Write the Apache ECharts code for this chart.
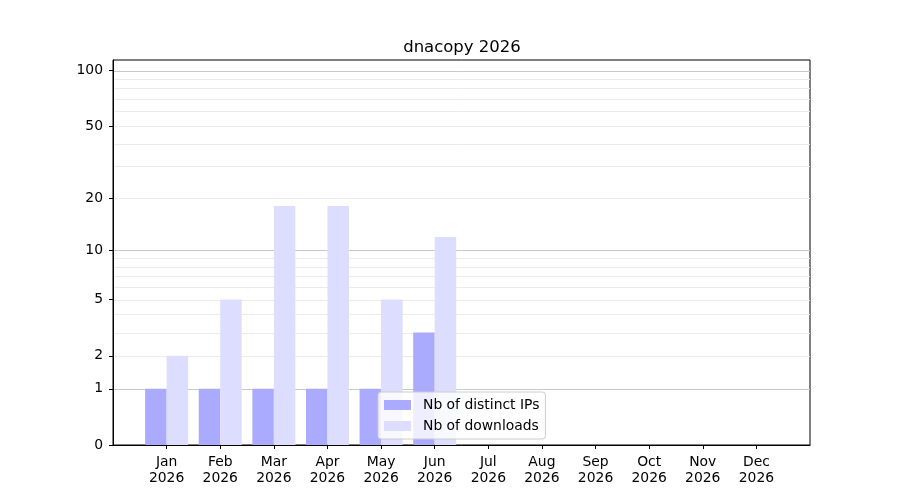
<!DOCTYPE html>
<html>
<head>
<meta charset="utf-8">
<script src="https://cdn.jsdelivr.net/npm/echarts@6/dist/echarts.min.js"></script>
<style>html,body{margin:0;padding:0;background:#fff}#c{width:900px;height:500px}</style>
</head>
<body>
<div id="c"></div>
<script>
const months = ['Jan','Feb','Mar','Apr','May','Jun','Jul','Aug','Sep','Oct','Nov','Dec'];
const year = '2026';
const distinctIPs = [1,1,1,1,1,3,0,0,0,0,0,0];
const downloads = [2,5,18,18,5,12,0,0,0,0,0,0];
const yTicks = [0,1,2,5,10,20,50,100];
const majorGrid = [1,10,100];
const minorGrid = [2,3,4,5,6,7,8,9,20,30,40,50,60,70,80,90];
const yMaxValue = 114;

const tf = v => Math.log10(1 + v);
const inv = t => Math.round(Math.pow(10, t) - 1);
const FONT = 'DejaVu Sans';

function gridSeries(vals, color) {
  return {
    type: 'custom', silent: true, z: 0,
    data: vals.map(v => [0, tf(v)]),
    encode: {x: 0, y: 1},
    renderItem: function (params, api) {
      const cs = params.coordSys;
      const y = Math.round(api.coord([0, api.value(1)])[1]) + 0.5;
      return {type: 'line', shape: {x1: cs.x, y1: y, x2: cs.x + cs.width, y2: y},
              style: {stroke: color, lineWidth: 1}};
    }
  };
}

const chart = echarts.init(document.getElementById('c'), null, {renderer: 'canvas'});
chart.setOption({
  animation: false,
  backgroundColor: '#ffffff',
  title: {
    text: 'dnacopy ' + year, left: 457, top: 34, textAlign: 'center',
    textStyle: {fontFamily: FONT, fontSize: 16.5, fontWeight: 'normal', color: '#000'}
  },
  grid: {left: 113, right: 90, top: 60, bottom: 55, show: true, borderColor: '#000', borderWidth: 1, backgroundColor: 'transparent'},
  legend: {
    data: ['Nb of distinct IPs', 'Nb of downloads'],
    orient: 'vertical', left: 378, top: 392,
    itemWidth: 27, itemHeight: 10, itemGap: 7,
    padding: [6, 6, 6, 6],
    backgroundColor: 'rgba(255,255,255,0.8)', borderColor: '#cccccc', borderWidth: 1, borderRadius: 3,
    textStyle: {fontFamily: FONT, fontSize: 13.9, color: '#000', padding: [0, 0, 0, 7]},
    icon: 'rect', z: 10
  },
  xAxis: {
    type: 'value', min: -1, max: 12, interval: 1,
    splitLine: {show: false},
    axisLine: {show: true, onZero: false, lineStyle: {color: '#000', width: 1}},
    axisTick: {show: true, length: 4, customValues: months.map((m, i) => i), lineStyle: {color: '#000'}},
    axisLabel: {
      customValues: months.map((m, i) => i),
      formatter: v => months[Math.round(v)] + '\n' + year,
      fontFamily: FONT, fontSize: 13.9, color: '#000', lineHeight: 16, margin: 9
    }
  },
  yAxis: {
    type: 'value', min: 0, max: tf(yMaxValue),
    splitLine: {show: false},
    axisLine: {show: true, onZero: false, lineStyle: {color: '#000', width: 1}},
    axisTick: {show: true, length: 4, customValues: yTicks.map(tf), lineStyle: {color: '#000'}},
    axisLabel: {
      customValues: yTicks.map(tf),
      formatter: v => String(inv(v)),
      fontFamily: FONT, fontSize: 13.9, color: '#000', margin: 10, padding: [3, 0, 0, 0]
    }
  },
  series: [
    gridSeries(minorGrid, '#ebebeb'),
    gridSeries(majorGrid, '#c8c8c8'),
    {
      name: 'Nb of distinct IPs', type: 'bar', z: 2,
      data: distinctIPs.map((v, i) => [i, tf(v)]),
      barWidth: 21.5, barGap: '0%',
      itemStyle: {color: '#aaaaff'}
    },
    {
      name: 'Nb of downloads', type: 'bar', z: 2,
      data: downloads.map((v, i) => [i, tf(v)]),
      barWidth: 21.5, barGap: '0%',
      itemStyle: {color: '#ddddff'}
    }
  ]
});
</script>
</body>
</html>
